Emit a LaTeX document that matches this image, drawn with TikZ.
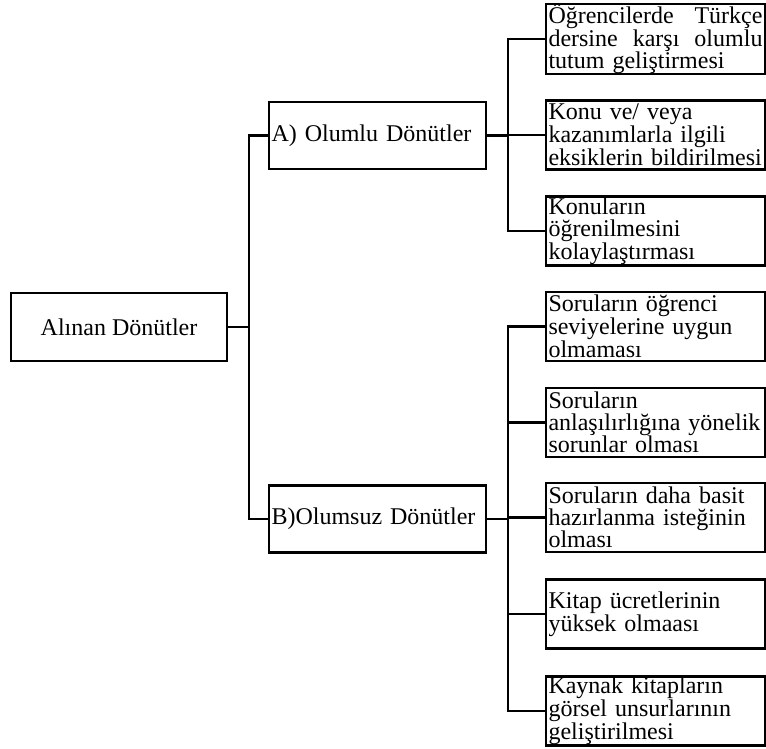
\documentclass[tikz,border=0pt]{standalone}
\usepackage{fontspec}
\setmainfont{Liberation Serif}

\begin{document}
\begin{tikzpicture}[x=1pt,y=-1pt,line width=2.2pt,
  kutu/.style={draw,inner xsep=2pt,inner ysep=0pt,font=\fontsize{24}{21.7}\selectfont},
  ana/.style={kutu,minimum width=216,minimum height=68},
  dal/.style={kutu,minimum width=217,minimum height=67,text width=212,align=left},
  yaprak/.style={kutu,minimum width=219,minimum height=69,text width=214,align=left}]
	\useasboundingbox (0,0) rectangle (766,748);
	\node[ana] (alinan) at (119,327) {Alınan Dönütler};
	\node[dal] (olumlu) at (377.5,135.5) {A) Olumlu Dönütler};
	\node[dal] (olumsuz) at (377.5,519) {B)Olumsuz Dönütler};
	\node[yaprak] (tutum) at (655.5,39) {Öğrencilerde\hfill Türkçe\\dersine\hfill karşı\hfill olumlu\\tutum geliştirmesi};
	\node[yaprak] (eksik) at (655.5,135) {Konu ve/ veya\\kazanımlarla ilgili\\eksiklerin bildirilmesi};
	\node[yaprak] (kolay) at (655.5,231) {Konuların\\öğrenilmesini\\kolaylaştırması};
	\node[yaprak] (seviye) at (655.5,326.5) {Soruların öğrenci\\seviyelerine uygun\\olmaması};
	\node[yaprak] (anlasilir) at (655.5,422.5) {Soruların\\anlaşılırlığına yönelik\\sorunlar olması};
	\node[yaprak] (basit) at (655.5,517.5) {Soruların daha basit\\hazırlanma isteğinin\\olması};
	\node[yaprak] (ucret) at (655.5,614) {Kitap ücretlerinin\\yüksek olmaası};
	\node[yaprak] (gorsel) at (655.5,711) {Kaynak kitapların\\görsel unsurlarının\\geliştirilmesi};
	\draw (alinan.east) -- ++(21,0) coordinate (j0);
	\draw (j0) |- (olumlu.west);
	\draw (j0) |- (olumsuz.west);
	\draw (olumlu.east) -- ++(21,0) coordinate (j1);
	\foreach \n in {tutum,eksik,kolay}
		\draw (j1) |- (\n.west);
	\draw (olumsuz.east) -- ++(21,0) coordinate (j2);
	\foreach \n in {seviye,anlasilir,basit,ucret,gorsel}
		\draw (j2) |- (\n.west);
\end{tikzpicture}
\end{document}
